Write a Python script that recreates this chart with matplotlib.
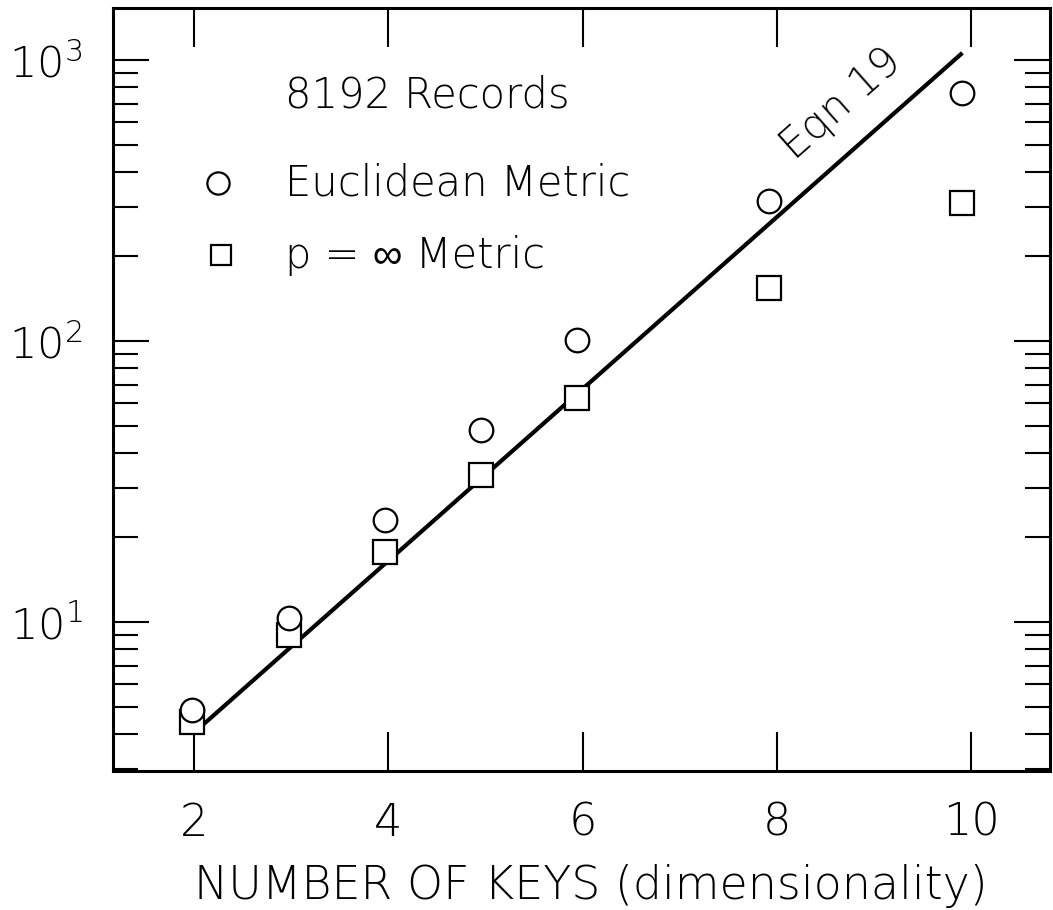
import matplotlib
matplotlib.use('Agg')
import matplotlib.pyplot as plt
from matplotlib.ticker import FixedLocator, LogLocator, NullFormatter, NullLocator

plt.rcParams['font.family'] = ['DejaVu Sans', 'Liberation Sans']
plt.rcParams['font.weight'] = 'light'
plt.rcParams['axes.labelweight'] = 'light'
plt.rcParams['mathtext.default'] = 'regular'

# values
keys = [1.98, 2.98, 3.97, 4.96, 5.94, 7.92, 9.91]
euclidean = [4.86, 10.3, 23.1, 48.2, 101, 315, 764]
p_inf = [4.41, 9.0, 17.7, 33.3, 62.7, 154, 310]
eqn19_x = [2.09, 9.91]
eqn19_y = [4.3, 1060]
x_ticks = [2, 4, 6, 8, 10]
y_ticks = [10, 100, 1000]
y_tick_labels = ['$10^1$', '$10^2$', '$10^3$']


def make_plot():
    fig = plt.figure(figsize=(10.53, 9.10), dpi=100)
    ax = fig.add_axes([0.1073, 0.1527, 0.8897, 0.8385])

    ax.plot(eqn19_x, eqn19_y, color='black', lw=3.0, solid_capstyle='butt')
    ax.plot(keys, p_inf, 's', ms=17, mfc='white', mec='black', mew=1.6, ls='none')
    ax.plot(keys, euclidean, 'o', ms=17, mfc='white', mec='black', mew=1.6, ls='none')

    ax.set_yscale('log')
    ax.set_xlim(1.167, 10.81)
    ax.set_ylim(2.95, 1531)

    ax.xaxis.set_major_locator(FixedLocator(x_ticks))
    ax.xaxis.set_minor_locator(NullLocator())
    ax.set_xticklabels([str(t) for t in x_ticks])
    ax.yaxis.set_major_locator(FixedLocator(y_ticks))
    ax.set_yticklabels(y_tick_labels)
    ax.yaxis.set_minor_locator(LogLocator(base=10, subs=range(2, 10), numticks=20))
    ax.yaxis.set_minor_formatter(NullFormatter())

    ax.tick_params(axis='x', which='major', direction='in', length=28, width=1.5,
                   top=True, labelsize=32, pad=22)
    ax.tick_params(axis='y', which='major', direction='in', length=26, width=1.5,
                   right=True, labelsize=31, pad=22)
    ax.tick_params(axis='y', which='minor', direction='in', length=18, width=1.5,
                   right=True)
    for s in ax.spines.values():
        s.set_linewidth(2.2)

    ax.set_xlabel('NUMBER OF KEYS (dimensionality)', fontsize=33,
                  fontweight='light', labelpad=14, x=0.51)

    ax.text(0.1836, 0.886, '8192 Records', transform=ax.transAxes, fontsize=30,
            va='center', ha='left')
    ax.plot([0.112], [0.771], 'o', ms=16, mfc='white', mec='black', mew=1.6,
            transform=ax.transAxes)
    ax.text(0.1836, 0.771, 'Euclidean Metric', transform=ax.transAxes, fontsize=30,
            va='center', ha='left')
    ax.plot([0.115], [0.676], 's', ms=15, mfc='white', mec='black', mew=1.6,
            transform=ax.transAxes)
    ax.text(0.1836, 0.676, 'p = \u221e Metric', transform=ax.transAxes, fontsize=30,
            va='center', ha='left')

    ax.text(8.66, 700, 'Eqn 19', fontsize=30, rotation=41.5, ha='center',
            va='center', rotation_mode='anchor')

    fig.savefig('out.png', dpi=100)
    plt.close(fig)


if __name__ == '__main__':
    make_plot()
